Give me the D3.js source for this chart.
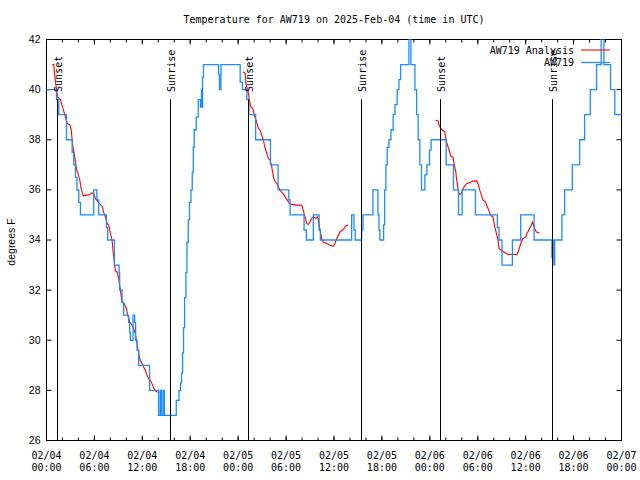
<!DOCTYPE html>
<html><head><meta charset="utf-8">
<script src="https://cdn.jsdelivr.net/npm/d3@7"></script>
<style>
body{margin:0;background:#fff}
svg{display:block}
</style></head><body>
<svg id="c" width="640" height="480"></svg>
<script>
// ---------- data ----------
const chartTitle = "Temperature for AW719 on 2025-Feb-04 (time in UTC)";
const yAxisLabel = "degrees F";
const seriesNames = ["AW719 Analysis", "AW719"];
const yTickValues = [26, 28, 30, 32, 34, 36, 38, 40, 42];
const startDate = "2025-02-04T00:00:00Z";
const spanHours = 72;

// observed station temperature: [hours since start, degF] (step changes)
const observed = [
  [0,40],[1.25,39.6],[1.54,39],[2.5,38],[3.21,37.5],[3.41,37],[3.63,36.5],[3.81,36],[4.04,35.5],[4.25,35],
  [5.91,36],[6.31,35.6],[6.54,35],[7.5,34.5],[7.66,34],[8.5,33],[9.09,32.7],[9.16,32],[9.46,31.5],[9.66,31],
  [10.29,30.7],[10.41,30.3],[10.5,30],[10.84,31],[11.04,30.7],[11.16,30],[11.34,29.6],[11.54,29],[12.91,28],
  [14.04,27],[14.25,28],[14.38,27],[14.59,28],[14.75,27],[16.25,27.6],[16.59,28],[16.79,28.3],[16.91,28.7],
  [17.04,29.5],[17.16,30.5],[17.29,31.7],[17.46,32.7],[17.59,33.9],[17.75,34.8],[17.91,35.5],[18.09,36],
  [18.25,36.7],[18.38,37.7],[18.5,38.4],[18.75,38.9],[19.0,39.6],[19.29,39.3],[19.41,40],[19.5,39.3],
  [19.54,40.5],[19.66,41],[21.54,40.6],[21.66,40],[21.84,41],[24.25,40.3],[24.54,40],[25.09,39.6],[25.34,39],
  [26.19,38],[28.04,37],[29.0,36],[30.34,35.6],[30.5,35],[32.25,34.4],[32.54,34],[33.41,35],[34.13,34.4],
  [34.29,34],[38.21,35],[38.5,34.4],[38.66,34],[39.46,34.4],[39.63,35],[40.88,36],[41.5,35],[41.63,34.4],
  [41.75,34],[42.21,34.6],[42.34,36],[42.5,37],[42.66,37.7],[42.88,38],[43.13,38.4],[43.41,39],[43.63,39.4],
  [43.91,40],[44.13,40.4],[44.34,41],[45.38,42.5],[45.63,41],[46.13,40],[46.34,39],[46.54,38],[46.75,37],
  [46.96,36],[47.38,36.6],[47.63,37],[47.96,37.6],[48.16,38],[50.04,37],[50.96,36],[51.59,35],[52.04,36],
  [53.71,35],[56.46,34.5],[56.66,34],[57.04,33],[58.34,34],[59.38,35],[61.06,34],[63.29,33.3],[63.38,34],
  [63.45,33.3],[63.54,33],[63.63,34],[64.54,35],[64.88,36],[65.84,37],[66.75,38],[67.38,39],[68.09,40],
  [68.88,41],[69.46,42.5],[69.8,41],[70.63,40],[71.16,39],[72,39]
];

// analysis series, one array per night
const analysisNight1 = [
  [0.71,41.0],[0.91,41.0],[1.0,40.65],[1.25,40.0],[1.41,39.7],[1.75,39.6],[1.96,39.35],[2.38,38.9],
  [2.59,38.65],[2.91,38.6],[3.09,38.4],[3.21,38.0],[3.34,37.65],[3.5,37.4],[3.75,36.85],[3.91,36.7],
  [4.16,36.4],[4.34,36.05],[4.59,35.76],[4.88,35.78],[5.29,35.8],[5.71,35.88],[5.91,35.85],[6.13,35.65],
  [6.34,35.57],[6.54,35.48],[6.96,35.35],[7.16,35.1],[7.38,34.92],[7.59,34.66],[7.79,34.59],[8.0,34.26],
  [8.21,34.0],[8.34,33.52],[8.5,33.12],[8.63,32.76],[8.84,32.72],[9.04,32.46],[9.25,32.0],[9.46,31.52],
  [9.75,31.45],[10.0,31.26],[10.16,31.0],[10.41,30.73],[10.71,30.6],[10.91,30.46],[11.13,30.26],[11.25,30.0],
  [11.41,29.73],[11.59,29.39],[11.75,29.19],[11.96,29.06],[12.16,28.93],[12.38,28.8],[12.59,28.6],
  [12.79,28.46],[13.0,28.4],[13.21,28.26],[13.41,28.1],[13.63,27.97],[13.91,27.93]
];
const analysisNight2 = [
  [24.59,40.71],[24.88,40.65],[24.96,40.25],[25.16,40.0],[25.29,39.85],[25.41,39.58],[25.59,39.31],
  [25.84,39.25],[26.0,38.98],[26.25,38.78],[26.54,38.45],[26.75,38.38],[26.96,38.18],[27.16,37.98],
  [27.38,37.65],[27.59,37.45],[27.79,37.25],[28.0,37.19],[28.21,36.92],[28.41,36.52],[28.63,36.32],
  [28.84,36.25],[29.04,36.12],[29.25,35.99],[29.46,35.9],[29.66,35.83],[29.88,35.72],[30.16,35.59],
  [30.41,35.46],[30.71,35.42],[31.34,35.39],[31.96,35.39],[32.09,35.26],[32.25,35.06],[32.38,34.92],
  [32.59,34.66],[32.79,34.62],[33.0,34.72],[33.21,34.86],[33.41,34.92],[33.75,34.86],[33.96,34.92],
  [34.09,34.68],[34.25,34.39],[34.46,34.06],[34.66,33.92],[35.09,33.86],[35.5,33.79],[35.91,33.75],
  [36.13,33.86],[36.34,34.06],[36.54,34.19],[36.75,34.32],[37.16,34.42],[37.38,34.52],[37.59,34.59],
  [37.79,34.59]
];
const analysisNight3 = [
  [48.71,38.78],[49.04,38.75],[49.16,38.58],[49.38,38.45],[49.59,38.38],[49.88,38.32],[50.0,38.05],
  [50.21,37.79],[50.41,37.59],[50.63,37.35],[50.91,37.3],[51.04,37.05],[51.25,36.72],[51.34,36.45],
  [51.46,36.19],[51.63,35.83],[51.88,35.83],[52.09,35.99],[52.29,36.12],[52.59,36.25],[53.0,36.29],
  [53.34,36.35],[53.84,36.36],[54.04,36.25],[54.25,35.99],[54.46,35.79],[54.66,35.59],[54.96,35.52],
  [55.29,35.26],[55.59,34.99],[55.91,34.92],[56.13,34.52],[56.34,34.26],[56.54,33.99],[56.66,33.66],
  [56.96,33.59],[57.38,33.5],[57.79,33.42],[58.91,33.42],[59.13,33.59],[59.38,33.86],[59.66,34.06],
  [60.0,34.12],[60.16,34.26],[60.5,34.46],[60.71,34.59],[60.84,34.72],[61.0,34.6],[61.13,34.46],
  [61.34,34.32],[61.75,34.28]
];

const sunNames = ["Sunset", "Sunrise", "Sunset", "Sunrise", "Sunset", "Sunrise"];
const sunHours = [1.33, 15.5, 25.29, 39.41, 49.29, 63.38];

// ---------- layout ----------
const L = 46, R = 621, T = 39, B = 440;
const MONO = '"DejaVu Sans Mono", monospace';
const SANS = '"Liberation Sans", Arial, sans-serif';
const colRed = "#ff0000", colBlue = "#1a8cff";

const t0 = new Date(startDate).getTime();
const hr = h => new Date(t0 + h * 3600000);

const x = d3.scaleUtc().domain([hr(0), hr(spanHours)]).range([L, R]);
const y = d3.scaleLinear().domain([26, 42]).range([B, T]);

const svg = d3.select("#c");
svg.append("rect").attr("width", 640).attr("height", 480).attr("fill", "#fff");

svg.append("defs").append("clipPath").attr("id", "plot")
  .append("rect").attr("x", L).attr("y", T).attr("width", R - L + 1).attr("height", B - T + 1);

// ---------- axes ----------
const majorX = d3.utcHour.every(6), minorX = d3.utcHour.every(2);

function styleAxis(g) {
  g.select(".domain").remove();
  g.selectAll("line").attr("stroke", "#000");
}
svg.append("g").attr("transform", `translate(0,${B + 0.5})`)
  .call(d3.axisBottom(x).ticks(majorX).tickSize(-5).tickFormat("")).call(styleAxis);
svg.append("g").attr("transform", `translate(0,${B + 0.5})`)
  .call(d3.axisBottom(x).ticks(minorX).tickSize(-3).tickFormat("")).call(styleAxis);
svg.append("g").attr("transform", `translate(0,${T + 0.5})`)
  .call(d3.axisTop(x).ticks(majorX).tickSize(-5).tickFormat("")).call(styleAxis);
svg.append("g").attr("transform", `translate(0,${T + 0.5})`)
  .call(d3.axisTop(x).ticks(minorX).tickSize(-3).tickFormat("")).call(styleAxis);
const gl = svg.append("g").attr("transform", `translate(${L + 0.5},0)`)
  .call(d3.axisLeft(y).tickValues(yTickValues).tickSize(-5).tickPadding(6)).call(styleAxis);
gl.selectAll("text").attr("font-family", SANS).attr("font-size", 10.5).attr("fill", "#000");
svg.append("g").attr("transform", `translate(${R + 0.5},0)`)
  .call(d3.axisRight(y).tickValues(yTickValues).tickSize(-5).tickFormat("")).call(styleAxis);

const fmtD = d3.utcFormat("%m/%d"), fmtT = d3.utcFormat("%H:%M");
const xl = svg.append("g").attr("font-family", MONO).attr("font-size", 10).attr("text-anchor", "middle");
x.ticks(majorX).forEach(d => {
  const t = xl.append("text").attr("x", x(d) + 0.5);
  t.append("tspan").attr("x", x(d) + 0.5).attr("y", 458.5).text(fmtD(d));
  t.append("tspan").attr("x", x(d) + 0.5).attr("y", 471).text(fmtT(d));
});

svg.append("rect").attr("x", L + 0.5).attr("y", T + 0.5).attr("width", R - L).attr("height", B - T)
  .attr("fill", "none").attr("stroke", "#000").attr("stroke-width", 1);

// ---------- data lines ----------
const plot = svg.append("g").attr("clip-path", "url(#plot)");
const lineStep = d3.line().x(d => x(hr(d[0])) + 0.5).y(d => y(d[1]) + 0.5).curve(d3.curveStepAfter);
const lineLin = d3.line().x(d => x(hr(d[0])) + 0.5).y(d => y(d[1]) + 0.5);

[analysisNight1, analysisNight2, analysisNight3].forEach(seg => {
  plot.append("path").attr("d", lineLin(seg)).attr("fill", "none")
    .attr("stroke", colRed).attr("stroke-width", 1.1);
});
plot.append("path").attr("d", lineStep(observed)).attr("fill", "none")
  .attr("stroke", colBlue).attr("stroke-width", 1.3);

// ---------- sunrise / sunset markers ----------
const sunLineTop = T + 0.15 * (B - T);
const sunLabelY = T + 0.132 * (B - T);
sunHours.forEach((h, i) => {
  const px = Math.round(x(hr(h))) + 0.5;
  svg.append("line").attr("x1", px).attr("x2", px).attr("y1", B).attr("y2", sunLineTop)
    .attr("stroke", "#000").attr("stroke-width", 1);
  svg.append("text").attr("transform", `translate(${px + 1},${sunLabelY}) rotate(-90)`)
    .attr("font-family", MONO).attr("font-size", 10).attr("dominant-baseline", "central")
    .attr("text-anchor", "start").text(sunNames[i]);
});

// ---------- legend ----------
const legendY = [50, 62.5];
const legendCols = [colRed, colBlue];
const legendW = [1.1, 1.3];
seriesNames.forEach((n, i) => {
  svg.append("text").attr("x", 574).attr("y", legendY[i]).attr("text-anchor", "end")
    .attr("dominant-baseline", "central").attr("font-family", MONO).attr("font-size", 10).text(n);
  svg.append("line").attr("x1", 581).attr("x2", 610).attr("y1", legendY[i]).attr("y2", legendY[i])
    .attr("stroke", legendCols[i]).attr("stroke-width", legendW[i]);
});

// ---------- titles ----------
svg.append("text").attr("x", (L + R) / 2 + 0.5).attr("y", 23).attr("text-anchor", "middle")
  .attr("font-family", MONO).attr("font-size", 10).text(chartTitle);
svg.append("text").attr("transform", `translate(11,242) rotate(-90)`).attr("text-anchor", "middle")
  .attr("dominant-baseline", "central").attr("font-family", SANS).attr("font-size", 10.5).text(yAxisLabel);
</script>
</body></html>
